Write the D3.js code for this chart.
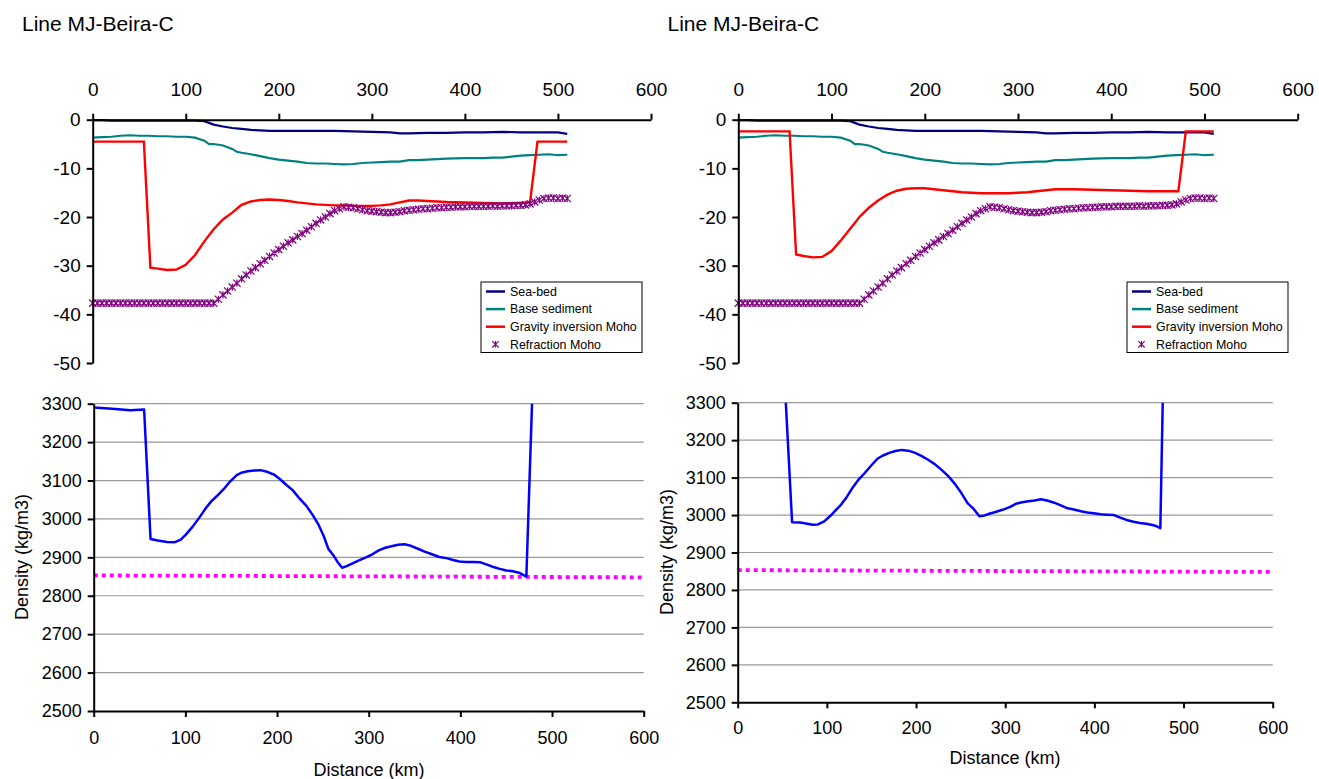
<!DOCTYPE html>
<html>
<head>
<meta charset="utf-8">
<script src="https://cdn.jsdelivr.net/npm/d3@7"></script>
<style>
  html, body { margin: 0; padding: 0; background: #fff; }
  svg { display: block; font-family: "Liberation Sans", Arial, sans-serif; }
</style>
</head>
<body>
<svg id="chart" width="1319" height="779"></svg>
<script>
// ---------------- DATA ----------------
const chartTitle = "Line MJ-Beira-C";
const seriesNames = ["Sea-bed", "Base sediment", "Gravity inversion Moho", "Refraction Moho"];
const xTicks = [0, 100, 200, 300, 400, 500, 600];
const depthTicks = [0, -10, -20, -30, -40, -50];
const densityTicks = [2500, 2600, 2700, 2800, 2900, 3000, 3100, 3200, 3300];
const xTitle = "Distance (km)";
const densityTitle = "Density (kg/m3)";

// Sea-bed (km, depth km)
const seabedX = [0,10,20,30,40,50,60,70,80,90,100,110,120,130,140,150,160,170,180,190,200,220,240,260,280,300,320,330,340,360,380,400,420,440,460,480,500,510];
const seabedY = [-0.1,-0.1,-0.2,-0.2,-0.2,-0.2,-0.2,-0.2,-0.2,-0.2,-0.2,-0.2,-0.3,-1.0,-1.4,-1.7,-1.9,-2.1,-2.2,-2.3,-2.3,-2.3,-2.3,-2.3,-2.4,-2.5,-2.6,-2.8,-2.8,-2.7,-2.7,-2.6,-2.6,-2.5,-2.6,-2.6,-2.6,-2.9];

// Base sediment
const sedX = [0,10,20,30,40,50,60,70,80,90,100,110,120,125,130,140,150,155,160,170,180,190,200,210,220,230,240,250,260,270,280,290,300,310,320,330,340,350,360,380,400,420,430,440,450,460,470,480,490,500,510];
const sedY = [-3.7,-3.6,-3.5,-3.3,-3.2,-3.3,-3.3,-3.4,-3.4,-3.5,-3.5,-3.7,-4.3,-5.0,-5.0,-5.3,-6.0,-6.6,-6.8,-7.1,-7.5,-7.9,-8.2,-8.4,-8.6,-8.9,-9.0,-9.0,-9.1,-9.2,-9.1,-8.9,-8.8,-8.7,-8.6,-8.6,-8.3,-8.3,-8.2,-8.0,-7.9,-7.9,-7.8,-7.8,-7.6,-7.4,-7.3,-7.2,-7.1,-7.3,-7.2];

// Gravity inversion Moho, left panel
const gravLX = [0,55,62,70,80,90,100,110,120,130,140,150,160,170,180,190,200,210,220,230,240,250,260,270,280,290,300,310,320,330,340,350,360,380,400,420,440,460,470,478,490,500,510];
const gravLY = [-4.5,-4.5,-30.4,-30.6,-30.9,-30.8,-29.8,-27.8,-25.0,-22.5,-20.5,-19.1,-17.5,-16.8,-16.5,-16.4,-16.5,-16.7,-17.0,-17.2,-17.4,-17.5,-17.6,-17.6,-17.7,-17.7,-17.7,-17.6,-17.4,-17.0,-16.6,-16.6,-16.7,-16.9,-17.0,-17.1,-17.2,-17.1,-17.0,-4.5,-4.5,-4.5,-4.5];

// Gravity inversion Moho, right panel
const gravRX = [0,55,62,70,80,90,100,110,120,130,140,150,160,170,180,190,200,210,220,230,240,250,260,270,280,290,300,310,320,330,340,350,360,380,400,420,440,460,472,480,490,500,510];
const gravRY = [-2.4,-2.4,-27.7,-28.0,-28.3,-28.2,-27.0,-24.8,-22.4,-20.0,-18.1,-16.6,-15.4,-14.6,-14.2,-14.1,-14.1,-14.3,-14.5,-14.7,-14.9,-15.0,-15.1,-15.1,-15.1,-15.1,-15.0,-14.9,-14.7,-14.5,-14.3,-14.3,-14.3,-14.4,-14.5,-14.6,-14.7,-14.7,-14.7,-2.4,-2.4,-2.4,-2.4];

// Refraction Moho (every 5 km)
const refrX = [0,5,10,15,20,25,30,35,40,45,50,55,60,65,70,75,80,85,90,95,100,105,110,115,120,125,130,135,140,145,150,155,160,165,170,175,180,185,190,195,200,205,210,215,220,225,230,235,240,245,250,255,260,265,270,275,280,285,290,295,300,305,310,315,320,325,330,335,340,345,350,355,360,365,370,375,380,385,390,395,400,405,410,415,420,425,430,435,440,445,450,455,460,465,470,475,480,485,490,495,500,505,510];
const refrY = [-37.7,-37.7,-37.7,-37.7,-37.7,-37.7,-37.7,-37.7,-37.7,-37.7,-37.7,-37.7,-37.7,-37.7,-37.7,-37.7,-37.7,-37.7,-37.7,-37.7,-37.7,-37.7,-37.7,-37.7,-37.7,-37.7,-37.7,-36.9,-36.0,-35.2,-34.4,-33.6,-32.7,-31.9,-31.1,-30.4,-29.6,-28.9,-28.1,-27.4,-26.7,-26.0,-25.3,-24.7,-24.0,-23.4,-22.7,-22.0,-21.3,-20.6,-20.0,-19.3,-18.7,-18.3,-17.9,-18.0,-18.1,-18.3,-18.5,-18.7,-18.8,-18.9,-19.0,-19.1,-19.1,-19.0,-18.9,-18.7,-18.6,-18.5,-18.4,-18.3,-18.3,-18.2,-18.1,-18.1,-18.0,-18.0,-17.9,-17.9,-17.9,-17.8,-17.8,-17.8,-17.8,-17.8,-17.7,-17.8,-17.7,-17.7,-17.7,-17.6,-17.6,-17.5,-17.3,-16.9,-16.5,-16.2,-16.1,-16.1,-16.2,-16.1,-16.2];

// Density, left panel
const densLX = [0,20,40,55,62,70,80,88,95,100,108,116,122,128,135,142,149,156,162,168,175,182,190,197,203,210,217,225,232,239,245,251,256,261,266,271,276,283,290,297,304,311,318,325,332,339,346,353,361,369,377,385,392,399,406,414,422,429,436,443,450,457,464,468,472,480];
const densLY = [3290,3287,3283,3285,2948,2944,2940,2939,2946,2958,2980,3006,3027,3045,3061,3078,3098,3114,3121,3124,3126,3127,3122,3115,3104,3089,3075,3052,3034,3010,2986,2955,2922,2907,2888,2873,2877,2885,2893,2900,2908,2918,2925,2929,2933,2934,2930,2923,2915,2908,2901,2898,2893,2889,2888,2888,2887,2881,2875,2870,2866,2864,2860,2855,2850,3433];

// Density, right panel
const densRX = [0,50,61,70,78,84,90,97,104,110,116,122,128,135,142,150,157,163,170,177,184,191,199,206,214,221,229,237,244,251,258,264,271,277,283,290,297,305,312,319,326,333,340,347,355,363,370,377,385,392,399,407,414,422,429,436,444,451,458,464,470,474,478];
const densRY = [3480,3480,2981,2980,2977,2974,2975,2983,2998,3013,3028,3047,3070,3093,3111,3133,3151,3159,3166,3171,3174,3172,3166,3158,3147,3136,3120,3102,3082,3058,3031,3018,2997,2999,3004,3009,3014,3021,3030,3034,3037,3039,3042,3039,3033,3025,3018,3015,3010,3007,3005,3002,3001,3000,2993,2987,2982,2979,2977,2974,2970,2965,3470];

// Reference density (dotted)
const refDensX = [0, 600];
const refDensY = [2853, 2848];

// ---------------- DRAW ----------------
const svg = d3.select("#chart");
const zip = (xs, ys) => xs.map((v, i) => [v, ys[i]]);
const colors = { seabed: "#000080", sed: "#008080", grav: "#ff0000", refr: "#800080", dens: "#0000ff", ref: "#ff00ff" };
const plainFmt = d => String(d);

function styleAxis(g, fontSize) {
  g.select(".domain").attr("stroke", "#000").attr("stroke-width", 2);
  g.selectAll(".tick line").attr("stroke", "#000").attr("stroke-width", 2);
  g.selectAll(".tick text").attr("fill", "#000").attr("font-size", fontSize)
    .attr("font-family", "Liberation Sans, Arial, sans-serif");
}

function starPath(s) {
  return `M${-s},${-s}L${s},${s}M${-s},${s}L${s},${-s}M0,${-s}L0,${s}`;
}

function drawTop(cfg) {
  const x = d3.scaleLinear().domain([0, 600]).range([cfg.x0, cfg.x1]);
  const y = d3.scaleLinear().domain([-50, 0]).range([363, 119.7]);
  const g = svg.append("g");

  g.append("text").attr("x", cfg.titleX).attr("y", 31).attr("font-size", 21)
    .attr("fill", "#000").text(chartTitle);

  const line = d3.line().x(d => x(d[0])).y(d => y(d[1]));
  g.append("path").datum(zip(sedX, sedY)).attr("d", line)
    .attr("fill", "none").attr("stroke", colors.sed).attr("stroke-width", 2.2);
  g.append("path").datum(zip(seabedX, seabedY)).attr("d", line)
    .attr("fill", "none").attr("stroke", colors.seabed).attr("stroke-width", 2.2);
  g.append("path").datum(zip(cfg.gravX, cfg.gravY)).attr("d", line)
    .attr("fill", "none").attr("stroke", colors.grav).attr("stroke-width", 2.4);
  g.append("g").selectAll("path").data(zip(refrX, refrY)).join("path")
    .attr("transform", d => `translate(${x(d[0])},${y(d[1])})`)
    .attr("d", starPath(3.6)).attr("fill", "none")
    .attr("stroke", colors.refr).attr("stroke-width", 1.2);

  const ax = g.append("g").attr("transform", `translate(0,${y(0)})`)
    .call(d3.axisTop(x).tickValues(xTicks).tickFormat(plainFmt).tickSize(6).tickSizeOuter(0).tickPadding(18));
  styleAxis(ax, 19);
  const ay = g.append("g").attr("transform", `translate(${x(0)},0)`)
    .call(d3.axisLeft(y).tickValues(depthTicks).tickFormat(plainFmt).tickSize(6).tickSizeOuter(0).tickPadding(6));
  styleAxis(ay, 19);

  // legend
  const lx = cfg.legX, ly = 282, lw = 161, lh = 70.5;
  const leg = g.append("g");
  leg.append("rect").attr("x", lx).attr("y", ly).attr("width", lw).attr("height", lh)
    .attr("fill", "#fff").attr("stroke", "#000").attr("stroke-width", 1);
  const items = [
    { name: seriesNames[0], c: colors.seabed, t: "line" },
    { name: seriesNames[1], c: colors.sed, t: "line" },
    { name: seriesNames[2], c: colors.grav, t: "line" },
    { name: seriesNames[3], c: colors.refr, t: "marker" }
  ];
  items.forEach((it, i) => {
    const cy = ly + 9.5 + i * 17.6;
    if (it.t === "line") {
      leg.append("line").attr("x1", lx + 5).attr("x2", lx + 24).attr("y1", cy).attr("y2", cy)
        .attr("stroke", it.c).attr("stroke-width", 2.5);
    } else {
      leg.append("path").attr("transform", `translate(${lx + 14.5},${cy})`).attr("d", starPath(3.2))
        .attr("fill", "none").attr("stroke", it.c).attr("stroke-width", 1.1);
    }
    leg.append("text").attr("x", lx + 29).attr("y", cy).attr("dy", "0.35em")
      .attr("font-size", 12.4).attr("fill", "#000").text(it.name);
  });
}

function drawBottom(cfg, id) {
  const x = d3.scaleLinear().domain([0, 600]).range([cfg.x0, cfg.x1]);
  const y = d3.scaleLinear().domain([2500, 3300]).range([cfg.yb, cfg.yt]);
  const g = svg.append("g");

  // gridlines
  g.append("g").selectAll("line").data(densityTicks.filter(v => v > 2500)).join("line")
    .attr("x1", x(0)).attr("x2", x(600)).attr("y1", d => y(d)).attr("y2", d => y(d))
    .attr("stroke", "#999").attr("stroke-width", 1.2);

  svg.append("clipPath").attr("id", id).append("rect")
    .attr("x", x(0)).attr("y", y(3300)).attr("width", x(600) - x(0)).attr("height", y(2500) - y(3300));

  const line = d3.line().x(d => x(d[0])).y(d => y(d[1]));
  g.append("path").datum(zip(refDensX, refDensY)).attr("d", line)
    .attr("fill", "none").attr("stroke", colors.ref).attr("stroke-width", 3.8)
    .attr("stroke-dasharray", "4,4");
  g.append("path").datum(zip(cfg.dx, cfg.dy)).attr("d", line)
    .attr("clip-path", `url(#${id})`)
    .attr("fill", "none").attr("stroke", colors.dens).attr("stroke-width", 2.5)
    .attr("stroke-linejoin", "round");

  const ax = g.append("g").attr("transform", `translate(0,${y(2500)})`)
    .call(d3.axisBottom(x).tickValues(xTicks).tickFormat(plainFmt).tickSize(6).tickSizeOuter(0).tickPadding(cfg.xPad));
  styleAxis(ax, 18);
  const ay = g.append("g").attr("transform", `translate(${x(0)},0)`)
    .call(d3.axisLeft(y).tickValues(densityTicks).tickFormat(plainFmt).tickSize(6).tickSizeOuter(0).tickPadding(6));
  styleAxis(ay, 18);

  g.append("text").attr("x", cfg.xtX).attr("y", cfg.xtY).attr("text-anchor", "middle")
    .attr("font-size", 18).attr("fill", "#000").text(xTitle);
  g.append("text").attr("transform", `translate(${cfg.ytX},${cfg.ytY}) rotate(-90)`)
    .attr("text-anchor", "middle").attr("dy", "0.35em")
    .attr("font-size", 18).attr("fill", "#000").text(densityTitle);
}

drawTop({ x0: 92.7, x1: 651, titleX: 22, legX: 481, gravX: gravLX, gravY: gravLY });
drawTop({ x0: 738.3, x1: 1297.7, titleX: 667.5, legX: 1127, gravX: gravRX, gravY: gravRY });
drawBottom({ x0: 93.7, x1: 643.7, yb: 711, yt: 403.7, dx: densLX, dy: densLY, xPad: 14,
  xtX: 369, xtY: 776, ytX: 22, ytY: 557 }, "clipL");
drawBottom({ x0: 737.7, x1: 1272.7, yb: 702.3, yt: 402.7, dx: densRX, dy: densRY, xPad: 13,
  xtX: 1005, xtY: 764, ytX: 667, ytY: 552 }, "clipR");
</script>
</body>
</html>
